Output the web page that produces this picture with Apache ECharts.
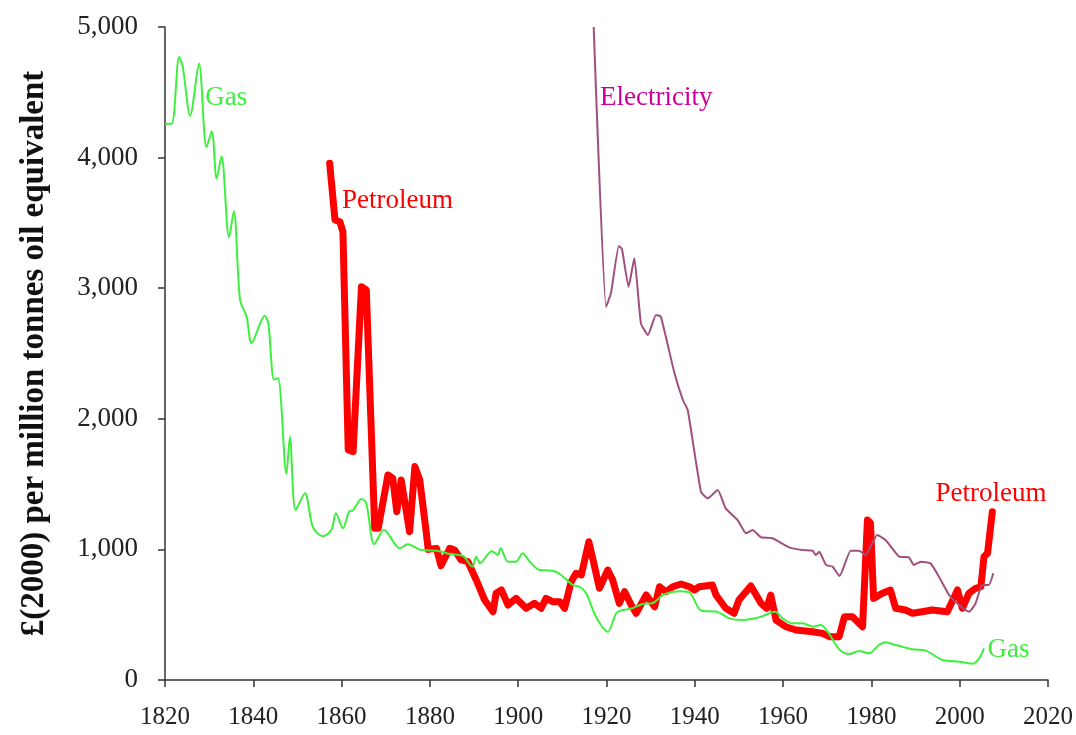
<!DOCTYPE html>
<html>
<head>
<meta charset="utf-8">
<script src="https://cdn.jsdelivr.net/npm/echarts@6/dist/echarts.min.js"></script>
<style>
  html, body { margin: 0; padding: 0; background: #fff; }
  #chart { width: 1076px; height: 735px; }
</style>
</head>
<body>
<div id="chart"></div>
<script>
// x ticks (years) and y ticks
const yearTicks = [1820, 1840, 1860, 1880, 1900, 1920, 1940, 1960, 1980, 2000, 2020];
const valueTicks = [0, 1000, 2000, 3000, 4000, 5000];

// Gas
const gasYears = [1820, 1821.5, 1823.2, 1824, 1825.7, 1827.7, 1829.4, 1830.6, 1831.7, 1832.8,
  1834.5, 1835.6, 1837, 1838.5, 1839.6, 1842.6, 1843.4, 1844.7, 1845.6, 1847.5,
  1848.3, 1849.6, 1851.7, 1853.5, 1855.8, 1857.7, 1858.7, 1860.3, 1861.7, 1862.6,
  1864.5, 1865.6, 1867.4, 1869.6, 1873.2, 1875, 1878, 1881.5, 1884.5, 1887.5,
  1889.6, 1890.5, 1891.3, 1894, 1895.4, 1896, 1897.7, 1899.5, 1901, 1902.6,
  1904.8, 1907.8, 1909.7, 1912.4, 1913.9, 1915.4, 1917.6, 1920.3, 1922.2, 1923.7,
  1925.9, 1928.2, 1930.5, 1933, 1936.5, 1938.8, 1941.5, 1945, 1947.8, 1950.8,
  1954.6, 1958.2, 1959.9, 1962.1, 1964.4, 1966.7, 1968.5, 1970.5, 1972.7, 1975,
  1977.2, 1979.5, 1981.7, 1983.2, 1985.5, 1989.3, 1992.3, 1996.1, 1999.9, 2002.9,
  2004.4, 2005.5];
const gasValues = [4260, 4260, 4770, 4700, 4320, 4720, 4080, 4200, 3840, 4010,
  3390, 3590, 2910, 2780, 2580, 2790, 2730, 2300, 2310, 1580,
  1860, 1300, 1430, 1170, 1100, 1150, 1276, 1162, 1289, 1300,
  1385, 1353, 1040, 1149, 1008, 1040, 995, 990, 965, 950,
  868, 944, 893, 985, 957, 1008, 906, 906, 970, 906,
  842, 837, 804, 727, 714, 664, 485, 370, 511, 536,
  549, 582, 590, 655, 680, 670, 530, 523, 472, 459,
  480, 523, 472, 434, 434, 408, 421, 350, 236, 199,
  222, 204, 268, 289, 268, 235, 225, 153, 140, 125,
  166, 243];

// Petroleum
const petYears = [1857.3, 1858.5, 1859.6, 1860.3, 1861.5, 1862.6, 1864.5, 1865.6, 1867.5, 1868.3,
  1870.5, 1871.6, 1872.5, 1873.5, 1875.4, 1876.6, 1877.7, 1879.2, 1879.6, 1881.5,
  1882.5, 1884.5, 1885.6, 1887.1, 1888.6, 1890.5, 1892.4, 1894.3, 1895, 1896.2,
  1897.7, 1899.5, 1901.8, 1903.7, 1905.2, 1906.3, 1907.8, 1909.4, 1910.5, 1912,
  1913.1, 1914.3, 1916, 1917.3, 1918.4, 1920.3, 1921.4, 1922.9, 1924.1, 1925.6,
  1926.7, 1929, 1930.9, 1932, 1933.5, 1935, 1936.9, 1938.8, 1939.9, 1941,
  1944, 1944.8, 1947, 1948.9, 1950, 1952.7, 1955, 1956.3, 1957.2, 1958.4,
  1960.6, 1962.9, 1966.7, 1968.9, 1970.5, 1972.7, 1973.9, 1975.7, 1978, 1979.1,
  1979.8, 1980.5, 1982.5, 1984.3, 1985.5, 1987.7, 1989.3, 1991.5, 1993.7, 1997.2,
  1999.5, 2000.6, 2002.1, 2003.6, 2004.8, 2005.5, 2006.3, 2007.4];
const petValues = [3956, 3522, 3509, 3433, 1761, 1748, 3011, 2986, 1162, 1162,
  1570, 1544, 1289, 1531, 1136, 1634, 1531, 1123, 1000, 1008,
  875, 1008, 995, 919, 906, 766, 612, 523, 664, 689,
  574, 625, 549, 587, 549, 625, 600, 600, 549, 753,
  817, 804, 1059, 868, 702, 842, 766, 587, 676, 574,
  511, 651, 561, 714, 676, 714, 735, 714, 689, 714,
  727, 651, 549, 511, 612, 720, 587, 549, 651, 459,
  408, 383, 370, 357, 332, 332, 485, 485, 408, 1225,
  1200, 625, 664, 689, 549, 536, 511, 523, 536, 523,
  689, 549, 664, 702, 714, 944, 970, 1289];

// Electricity
const elecYears = [1917.1, 1919.9, 1921, 1922.8, 1923.5, 1925, 1926.3, 1927.8, 1929.4, 1931.2,
  1932.3, 1935.4, 1937.3, 1938.4, 1941.4, 1942.9, 1945.2, 1947, 1949.7, 1951.6,
  1953.1, 1955, 1957.6, 1961.4, 1964.4, 1966.7, 1967.4, 1968.2, 1969.7, 1971.2,
  1972.8, 1975.3, 1977.2, 1978.7, 1981.3, 1983.2, 1986.3, 1988.5, 1989.6, 1991.2,
  1993.4, 1995.3, 1997.6, 1999.9, 2002.1, 2003.6, 2005.1, 2006.6, 2007.6];
const elecValues = [5000, 2858, 2961, 3323, 3300, 3011, 3229, 2731, 2642, 2795,
  2782, 2348, 2144, 2067, 1442, 1391, 1455, 1314, 1225, 1123,
  1149, 1093, 1085, 1016, 995, 990, 957, 982, 881, 868,
  796, 990, 990, 957, 1110, 1072, 944, 939, 881, 906,
  893, 791, 651, 574, 523, 587, 727, 727, 817];

// in-chart labels: [text, year, value]
const gasLabels = [['Gas', 1829, 4456], ['Gas', 2006.2, 230]];
const petLabels = [['Petroleum', 1860, 3668], ['Petroleum', 1994.4, 1424]];
const elecLabels = [['Electricity', 1918.4, 4456]];

const serif = '"Liberation Serif", "DejaVu Serif", serif';

function zip(xs, ys) {
  return xs.map((x, i) => [x, ys[i]]);
}

function labelPoints(list, color) {
  return {
    symbol: 'rect',
    symbolSize: 1,
    silent: true,
    itemStyle: { color: 'rgba(0,0,0,0)' },
    label: {
      show: true,
      position: 'right',
      distance: 0,
      color: color,
      fontFamily: serif,
      fontSize: 27,
      formatter: (p) => p.name,
    },
    data: list.map(([t, x, y]) => ({ name: t, coord: [x, y] })),
  };
}

const chart = echarts.init(document.getElementById('chart'));

chart.setOption({
  animation: false,
  backgroundColor: '#fff',
  grid: { left: 165, right: 27, top: 27, bottom: 55 },
  xAxis: {
    type: 'value',
    min: yearTicks[0],
    max: yearTicks[yearTicks.length - 1],
    interval: 20,
    splitLine: { show: false },
    axisLine: { show: true, lineStyle: { color: '#333', width: 1.5 } },
    axisTick: { show: true, length: 7, lineStyle: { color: '#333', width: 1.5 } },
    axisLabel: {
      color: '#222',
      fontFamily: serif,
      fontSize: 25,
      margin: 25,
      formatter: (v) => String(v),
    },
  },
  yAxis: {
    type: 'value',
    min: valueTicks[0],
    max: valueTicks[valueTicks.length - 1],
    interval: 1000,
    name: '£(2000) per million tonnes oil equivalent',
    nameLocation: 'middle',
    nameGap: 114,
    nameTextStyle: {
      color: '#111',
      fontFamily: serif,
      fontSize: 33,
      fontWeight: 'bold',
    },
    splitLine: { show: false },
    axisLine: { show: true, lineStyle: { color: '#333', width: 1.5 } },
    axisTick: { show: true, length: 7, lineStyle: { color: '#333', width: 1.5 } },
    axisLabel: {
      color: '#222',
      fontFamily: serif,
      fontSize: 27,
      margin: 27,
      formatter: (v) => v.toLocaleString('en-US'),
    },
  },
  series: [
    {
      name: 'Petroleum',
      type: 'line',
      data: zip(petYears, petValues),
      showSymbol: false,
      lineStyle: { color: '#ff0000', width: 7, join: 'round', cap: 'round' },
      markPoint: labelPoints(petLabels, '#ff0000'),
    },
    {
      name: 'Gas',
      type: 'line',
      data: zip(gasYears, gasValues),
      showSymbol: false,
      smooth: 0.3,
      lineStyle: { color: '#3ef03e', width: 2 },
      markPoint: labelPoints(gasLabels, '#3ef03e'),
    },
    {
      name: 'Electricity',
      type: 'line',
      data: zip(elecYears, elecValues),
      showSymbol: false,
      smooth: 0.15,
      lineStyle: { color: '#a0507f', width: 2 },
      markPoint: labelPoints(elecLabels, '#cc0099'),
    },
  ],
});
</script>
</body>
</html>
